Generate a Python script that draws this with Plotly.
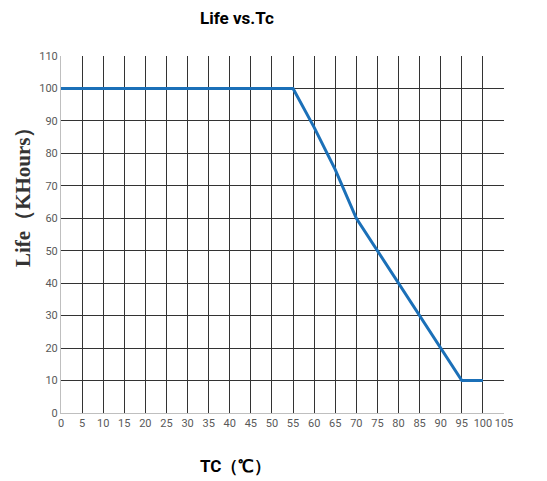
import plotly.graph_objects as go

tc = [0, 55, 60, 65, 70, 75, 80, 85, 90, 95, 100]
life = [100, 100, 88, 75, 60, 50, 40, 30, 20, 10, 10]
x_ticks = list(range(0, 106, 5))
y_ticks = list(range(0, 111, 10))

narrow = "Liberation Sans Narrow, Roboto, sans-serif"

# page body has an 8px margin, so the figure is drawn 8px in from the top-left
OFF = 8
W, H = 547 - OFF, 481 - OFF
L, T = 61 - OFF, 56 - OFF
plot_right, plot_bottom = 504 - OFF, 413 - OFF
R, B = W - plot_right, H - plot_bottom

fig = go.Figure()
fig.add_trace(go.Scatter(x=tc, y=life, mode="lines",
                         line=dict(color="#1b70b8", width=3), showlegend=False))

axis_common = dict(showgrid=True, gridcolor="#333333", gridwidth=1, zeroline=False,
                   showline=True, linecolor="#bfbfbf", linewidth=1,
                   ticks="", fixedrange=True, automargin=False,
                   tickfont=dict(family=narrow, size=11, color="#595959"))

fig.update_layout(
    width=W, height=H,
    margin=dict(l=L, r=R, t=T, b=B, autoexpand=False),
    paper_bgcolor="white", plot_bgcolor="white",
    font=dict(family=narrow, color="#595959", size=11),
    xaxis=dict(range=[0, 105], tickvals=x_ticks, **axis_common),
    yaxis=dict(range=[0, 110], tickvals=y_ticks, **axis_common),
)

pw = W - L - R
ph = H - T - B

def px2paper(px, py):
    px -= OFF
    py -= OFF
    return (px - L) / pw, 1 - (py - T) / ph

anns = [
    ("<b>Life vs.Tc</b>", 237, 18, 0, dict(family=narrow, size=17, color="#000000")),
    ("<b>TC（℃）</b>", 235, 466, 0, dict(family=narrow, size=17, color="#000000")),
    ("<b>Life（KHours）</b>", 23, 192, -90,
     dict(family="Liberation Serif, DejaVu Serif, serif", size=21, color="#333333")),
]
for text, px, py, ang, f in anns:
    xx, yy = px2paper(px, py)
    fig.add_annotation(text=text, x=xx, y=yy, xref="paper", yref="paper",
                       showarrow=False, textangle=ang, font=f,
                       xanchor="center", yanchor="middle")

fig.write_html("out.html")
